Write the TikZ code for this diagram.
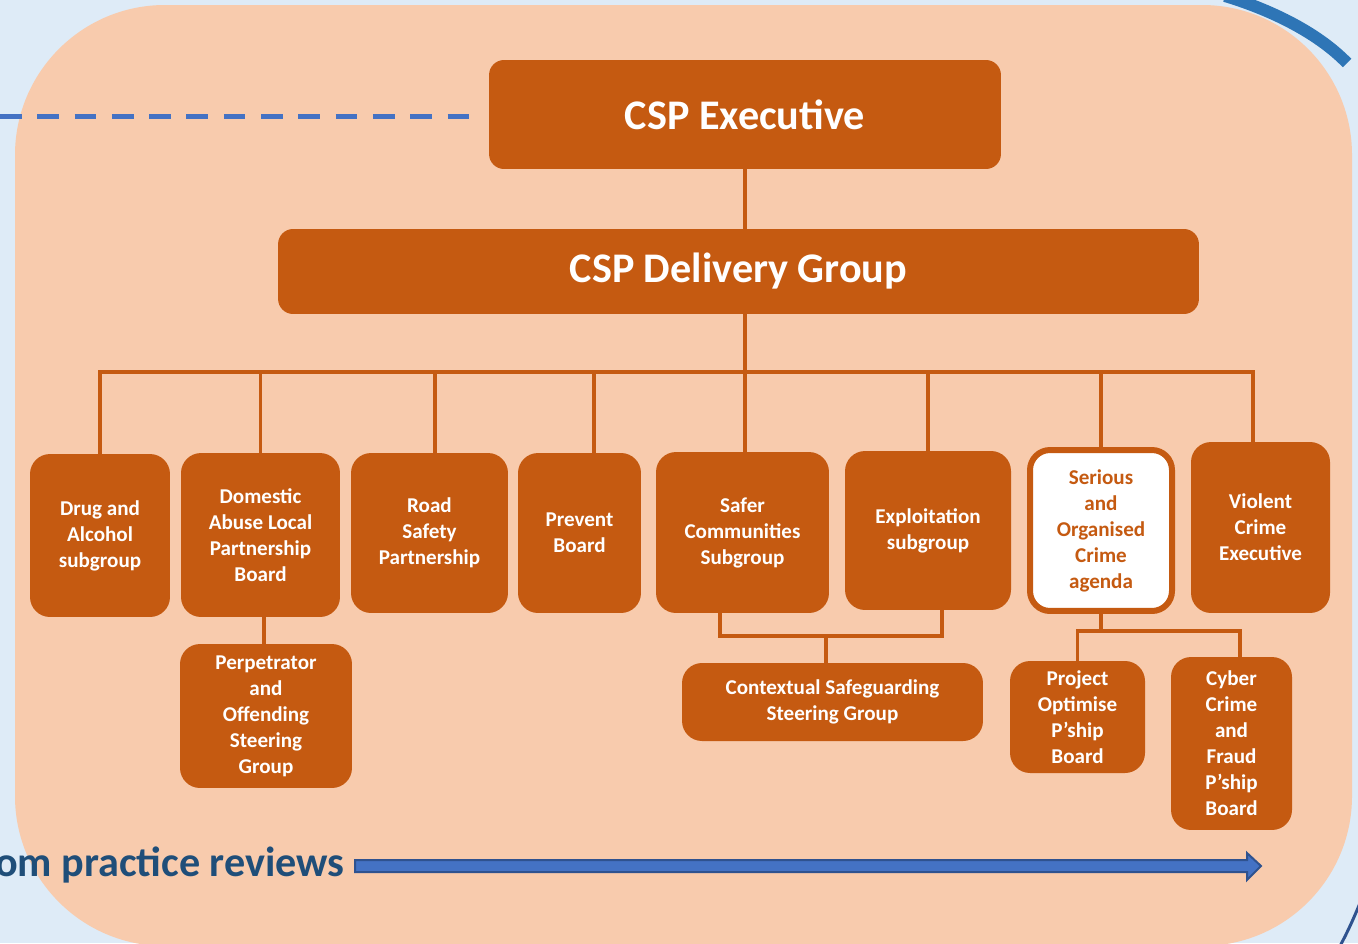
\documentclass[tikz,border=0pt]{standalone}
\usepackage{fontspec}
\setmainfont{Carlito}

\definecolor{bgblue}{HTML}{DEEBF7}
\definecolor{peach}{HTML}{F8CBAD}
\definecolor{rust}{HTML}{C55A11}
\definecolor{dashblue}{HTML}{4472C4}
\definecolor{arrowline}{HTML}{2F528F}
\definecolor{arcblue}{HTML}{2E75B6}
\definecolor{navy}{HTML}{1F4E79}

\newcommand\unitfont{\fontsize{12}{14.8}\selectfont\bfseries}
\newcommand\topfont{\fontsize{24}{29}\selectfont\bfseries}

\tikzset{
  unit/.style={fill=rust, text=white, rounded corners=0.4cm, align=center, inner sep=0pt, font=\unitfont},
  link/.style={draw=rust, line width=0.07cm},
  dashlink/.style={draw=dashblue, line width=0.1cm, dash pattern=on 0.434cm off 0.312cm},
}

\begin{document}
\begin{tikzpicture}[x=0.02cm, y=-0.02cm]

\fill[bgblue] (0,0) rectangle (1358,943);
\useasboundingbox (0,0) rectangle (1358,943);
\fill[peach, rounded corners=3cm] (15,5) rectangle (1352,946);

% outer arcs
\draw[arcblue, line width=0.24cm] (1225,-4) .. controls (1265,8) and (1315,30) .. (1347,63);
\draw[arrowline, line width=0.06cm] (1340,946) .. controls (1347,933) and (1353,920) .. (1360,903);

% top levels
\node[unit, rounded corners=0.3cm, font=\topfont, minimum width=10.24cm, minimum height=2.18cm] (exec) at (745,114.5) {CSP Executive};
\node[unit, rounded corners=0.3cm, font=\topfont, minimum width=18.42cm, minimum height=1.7cm] (delivery) at (738.5,271.5) {CSP Delivery Group};

% subgroups
\node[unit, minimum width=2.8cm, minimum height=3.26cm] (drug) at (100,535.5) {Drug and\\Alcohol\\subgroup};
\node[unit, minimum width=3.18cm, minimum height=3.28cm] (domestic) at (260.5,535) {Domestic\\Abuse Local\\Partnership\\Board};
\node[unit, minimum width=3.14cm, minimum height=3.2cm] (road) at (429.5,533) {Road\\Safety\\Partnership};
\node[unit, minimum width=2.46cm, minimum height=3.2cm] (prevent) at (579.5,533) {Prevent\\Board};
\node[unit, minimum width=3.46cm, minimum height=3.22cm] (safer) at (742.5,532.5) {Safer\\Communities\\Subgroup};
\node[unit, minimum width=3.32cm, minimum height=3.18cm] (exploit) at (928,530.5) {Exploitation\\subgroup};
\node[unit, fill=white, draw=rust, line width=0.12cm, text=rust, minimum width=2.84cm, minimum height=3.22cm] (serious) at (1101,530.5) {Serious\\and\\Organised\\Crime\\agenda};
\node[unit, minimum width=2.78cm, minimum height=3.42cm] (violent) at (1260.5,527.5) {Violent\\Crime\\Executive};

\node[unit, minimum width=3.44cm, minimum height=2.88cm] (perp) at (266,716) {Perpetrator\\and\\Offending\\Steering\\Group};
\node[unit, minimum width=6.02cm, minimum height=1.56cm] (context) at (832.5,702) {Contextual Safeguarding\\Steering Group};
\node[unit, minimum width=2.7cm, minimum height=2.24cm] (project) at (1077.5,717) {Project\\Optimise\\P’ship\\Board};
\node[unit, minimum width=2.42cm, minimum height=3.46cm] (cyber) at (1231.5,743.5) {Cyber\\Crime\\and\\Fraud\\P’ship\\Board};

\coordinate (bus) at (745,372);
\coordinate (csjoin) at (826,636);
\coordinate (ocjoin) at (1101,631);

\draw[link] (exec.south) -- (exec.south |- delivery.north);
\draw[link] (bus |- delivery.south) -- (bus);
\draw[link] (drug.north) |- (bus);
\draw[link] (domestic.north) |- (bus);
\draw[link] ([xshift=0.11cm]road.north) |- (bus);
\draw[link] ([xshift=0.29cm]prevent.north) |- (bus);
\draw[link] ([xshift=0.05cm]safer.north) |- (bus);
\draw[link] (exploit.north) |- (bus);
\draw[link] (serious.north) |- (bus);
\draw[link] ([xshift=-0.15cm]violent.north) |- (bus);

\draw[link] (perp.north -| 264,0) -- (domestic.south -| 264,0);
\draw[link] ([xshift=-0.45cm]safer.south) |- (csjoin);
\draw[link] ([xshift=0.28cm]exploit.south) |- (csjoin);
\draw[link] (csjoin) -- (csjoin |- context.north);
\draw[link] (serious.south) -- (ocjoin);
\draw[link] (ocjoin) -| (project.north);
\draw[link] (ocjoin) -| ([xshift=0.17cm]cyber.north);

% feedback lines
\coordinate (dashstart) at (0,116);
\draw[dashlink, shorten >=0.4cm] (dashstart) -- (dashstart -| exec.west);

\node[anchor=base east, text=navy, font=\topfont, inner sep=0pt] (reviews) at (345,876) {om practice reviews};
\coordinate (arrowtail) at (355,866);
\coordinate (arrowtip) at (1261,866);
\filldraw[fill=dashblue, draw=arrowline, line width=0.04cm] (arrowtail) -- ++(0,-6) -- ++(892,0) -- ++(0,-7) -- (arrowtip) -- ++(-14,14) -- ++(0,-8) -- ++(-892,0) -- cycle;

\end{tikzpicture}
\end{document}
